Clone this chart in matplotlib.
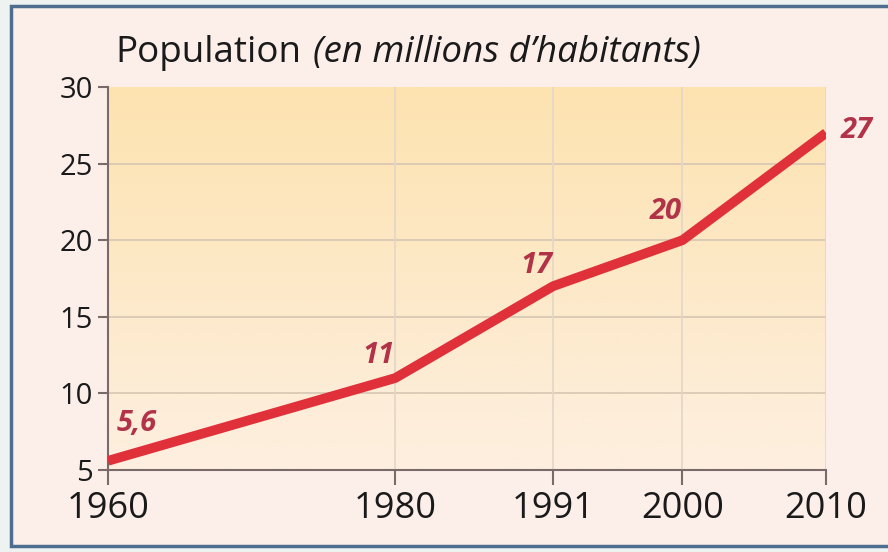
import matplotlib.pyplot as plt
import numpy as np
from matplotlib.patches import Rectangle
from matplotlib.colors import LinearSegmentedColormap

years = [1960, 1980, 1991, 2000, 2010]
population = [5.6, 11, 17, 20, 27]
value_labels = ['5,6', '11', '17', '20', '27']
# offsets (in points) of the value labels from their points
label_offsets = [(21, 27), (-12, 16), (-12, 15), (-12, 21), (22, 2)]
y_ticks = [5, 10, 15, 20, 25, 30]

plt.rcParams['font.family'] = ['Open Sans', 'DejaVu Sans']

fig = plt.figure(figsize=(8.88, 5.52), dpi=100)
fig.patch.set_facecolor('#eef2f0')
# panel frame
frame = Rectangle((11 / 888, 6 / 552), 1.0, 540 / 552, transform=fig.transFigure,
                  facecolor='#fcefea', edgecolor='#4f6d8e', linewidth=2.5, zorder=-5)
fig.patches.append(frame)

ax = fig.add_axes([108 / 888, 1 - 470 / 552, 718 / 888, 383 / 552])
ax.set_facecolor('none')
ax.set_zorder(2)

# soft vertical gradient in the plot area
grad = np.linspace(0, 1, 256).reshape(-1, 1)
cmap = LinearSegmentedColormap.from_list('bg', ['#fdefe0', '#fde3b0'])
ax.imshow(grad, cmap=cmap, aspect='auto', extent=[1960, 2010, 5, 30],
          origin='lower', zorder=0)

ax.set_xlim(1960, 2010)
ax.set_ylim(5, 30)

for y in y_ticks[1:-1]:
    ax.axhline(y, color='#d6c6b2', linewidth=1.2, zorder=1)
for x in years[1:]:
    ax.axvline(x, color='#e3d6c6', linewidth=1.2, zorder=1)

ax.plot(years, population, color='#e0303a', linewidth=7,
        solid_capstyle='butt', solid_joinstyle='round', zorder=3)

for x, y, lab, off in zip(years, population, value_labels, label_offsets):
    ax.annotate(lab, (x, y), xytext=off, textcoords='offset points',
                ha='center', va='center', fontsize=21, fontweight='bold',
                fontstyle='italic', color='#b23348', zorder=4)

ax.set_xticks(years)
ax.set_yticks(y_ticks)
ax.tick_params(axis='x', labelsize=26, length=11, width=1.5, color='#7a6a6a', pad=4)
ax.tick_params(axis='y', labelsize=21, length=7, width=1.5, color='#7a6a6a', pad=4)
for lbl in ax.get_xticklabels() + ax.get_yticklabels():
    lbl.set_fontweight('medium')
    lbl.set_color('#1a1a1a')
for side in ['top', 'right']:
    ax.spines[side].set_visible(False)
for side in ['left', 'bottom']:
    ax.spines[side].set_color('#7a6a6a')
    ax.spines[side].set_linewidth(1.5)

fig.text(115 / 888, 1 - 62 / 552, 'Population', fontsize=26.5, fontweight='medium',
         color='#1a1a1a', va='baseline', ha='left')
fig.text(313 / 888, 1 - 62 / 552, '(en millions d\u2019habitants)', fontsize=26.5,
         fontweight='medium', fontstyle='italic', color='#1a1a1a', va='baseline', ha='left')

fig.savefig('out.png', dpi=100, facecolor=fig.get_facecolor())
